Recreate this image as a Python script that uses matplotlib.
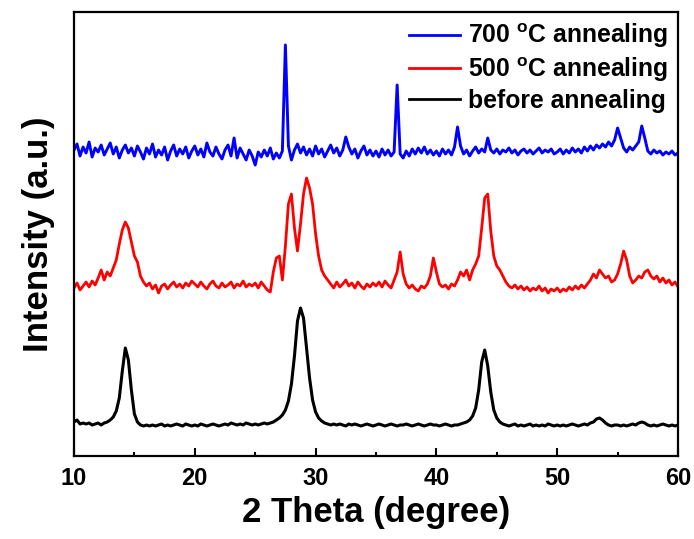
import numpy as np
import matplotlib
matplotlib.use("Agg")
import matplotlib.pyplot as plt

plt.rcParams['font.family'] = ['Liberation Sans', 'DejaVu Sans']
plt.rcParams['font.weight'] = 'bold'
plt.rcParams['mathtext.fontset'] = 'custom'
plt.rcParams['mathtext.rm'] = 'Liberation Sans:bold'
plt.rcParams['mathtext.bf'] = 'Liberation Sans:bold'

# 2-theta sampling grid (degrees)
two_theta = np.arange(201) * 0.25 + 10.0

# intensities (a.u., stacked offsets as in the figure)
before_annealing = [
    34, 36, 32, 33, 32, 33, 31, 32, 33, 31, 33, 34, 36, 39, 45, 58, 85, 108, 96, 66,
    42, 34, 31, 30, 31, 30, 31, 30, 31, 32, 30, 31, 30, 31, 32, 31, 30, 32, 31, 30,
    31, 30, 32, 31, 30, 31, 32, 31, 30, 31, 32, 31, 33, 32, 31, 32, 31, 33, 32, 31,
    32, 31, 32, 33, 32, 33, 34, 36, 38, 41, 46, 55, 72, 100, 135, 148, 138, 108, 78, 56,
    44, 38, 35, 33, 32, 31, 32, 31, 32, 31, 30, 32, 31, 32, 31, 30, 31, 32, 31, 30,
    31, 32, 31, 30, 31, 32, 31, 30, 31, 31, 32, 31, 30, 31, 32, 31, 30, 31, 32, 31,
    31, 30, 31, 32, 31, 30, 31, 31, 32, 33, 34, 36, 40, 48, 66, 94, 106, 90, 64, 46,
    38, 34, 32, 31, 30, 31, 32, 30, 31, 30, 31, 32, 30, 31, 30, 31, 30, 32, 31, 30,
    31, 30, 31, 30, 31, 32, 31, 30, 31, 32, 31, 33, 34, 37, 38, 36, 33, 31, 30, 31,
    31, 30, 31, 30, 31, 32, 31, 33, 34, 33, 31, 30, 31, 30, 31, 32, 31, 30, 31, 30,
    31,
]

annealed_500 = [
    168, 173, 166, 170, 174, 169, 175, 171, 178, 186, 176, 184, 180, 188, 196, 212, 226, 234, 228, 214,
    200, 194, 180, 174, 170, 173, 167, 171, 163, 170, 172, 167, 171, 174, 169, 172, 168, 173, 170, 175,
    172, 169, 174, 170, 167, 172, 175, 170, 168, 173, 169, 171, 174, 168, 172, 170, 175, 169, 172, 170,
    173, 168, 174, 170, 166, 164, 184, 198, 200, 176, 210, 252, 262, 228, 205, 232, 262, 278, 268, 252,
    222, 200, 186, 180, 176, 172, 168, 174, 169, 172, 176, 170, 173, 168, 174, 170, 167, 172, 169, 173,
    170, 174, 169, 175, 171, 168, 176, 184, 204, 182, 172, 168, 171, 167, 165, 170, 168, 172, 180, 198,
    184, 172, 169, 171, 167, 172, 170, 176, 184, 180, 186, 176, 186, 192, 200, 228, 258, 262, 225, 200,
    190, 186, 180, 174, 170, 168, 171, 167, 170, 166, 169, 165, 168, 166, 170, 165, 168, 163, 167, 165,
    168, 164, 167, 165, 169, 166, 170, 167, 171, 168, 172, 176, 182, 178, 186, 182, 178, 180, 174, 176,
    182, 192, 205, 196, 180, 173, 176, 180, 178, 184, 186, 180, 177, 180, 174, 178, 173, 176, 171, 174,
    169,
]

annealed_700 = [
    306, 312, 300, 309, 303, 314, 299, 308, 304, 311, 301, 307, 313, 302, 309, 298, 306, 311, 303, 308,
    300, 310, 304, 297, 308, 302, 312, 299, 306, 301, 309, 296, 305, 311, 300, 307, 302, 309, 298, 305,
    310, 301, 307, 299, 313, 304, 300, 309, 302, 297, 306, 311, 300, 318, 298, 308, 302, 296, 306, 300,
    291, 304, 299, 306, 300, 308, 297, 303, 298, 305, 411, 310, 296, 306, 312, 303, 309, 301, 307, 300,
    310, 302, 307, 299, 305, 311, 303, 308, 300, 306, 319, 309, 302, 307, 298, 305, 310, 301, 306, 300,
    305, 299, 307, 301, 306, 300, 304, 371, 302, 298, 305, 300, 307, 302, 308, 303, 309, 302, 306, 301,
    305, 300, 307, 302, 306, 301, 309, 329, 310, 302, 306, 300, 305, 309, 303, 307, 304, 318, 306, 303,
    307, 302, 306, 304, 308, 303, 306, 301, 305, 307, 303, 306, 302, 305, 308, 303, 306, 304, 307, 302,
    304, 307, 302, 306, 303, 308, 304, 307, 303, 309, 305, 310, 306, 311, 308, 312, 309, 314, 310, 316,
    328, 318, 308, 304, 309, 306, 310, 314, 330, 318, 305, 302, 306, 303, 305, 301, 304, 302, 305, 301,
    303,
]

series_labels = ['700 $^{\\mathbf{o}}$C annealing', '500 $^{\\mathbf{o}}$C annealing', 'before annealing']
series_colors = ['#0000ff', '#ff0000', '#000000']
series_widths = [2.1, 2.0, 2.2]

fig = plt.figure(figsize=(6.94, 5.39), dpi=100)
ax = fig.add_axes([74 / 694, 1 - 456 / 539, (678 - 74) / 694, (456 - 12) / 539])

for ys, lab, col, lw in zip([annealed_700, annealed_500, before_annealing],
                            series_labels, series_colors, series_widths):
    ax.plot(two_theta, ys, color=col, lw=lw, label=lab)

ax.set_xlim(10, 60)
ax.set_ylim(0, 444)
ax.set_xticks([10, 20, 30, 40, 50, 60])
ax.set_xticks([15, 25, 35, 45, 55], minor=True)
ax.set_yticks([])
ax.tick_params(axis='x', which='major', direction='in', length=6, width=1.5, labelsize=17, pad=8)
ax.tick_params(axis='x', which='minor', direction='in', length=3, width=1.5)
for sp in ax.spines.values():
    sp.set_linewidth(1.6)

ax.set_xlabel('2 Theta (degree)', fontsize=25, fontweight='bold', labelpad=4)
ax.set_ylabel('Intensity (a.u.)', fontsize=25, fontweight='bold', labelpad=14)

leg = ax.legend(loc='upper right', frameon=False, fontsize=17.8, handlelength=2.1,
                handletextpad=0.3, labelspacing=0.2, borderaxespad=0.2, borderpad=0.2)
for t in leg.get_texts():
    t.set_fontweight('bold')
for h in leg.get_lines():
    h.set_linewidth(2.0)

fig.savefig('out.png', dpi=100)
